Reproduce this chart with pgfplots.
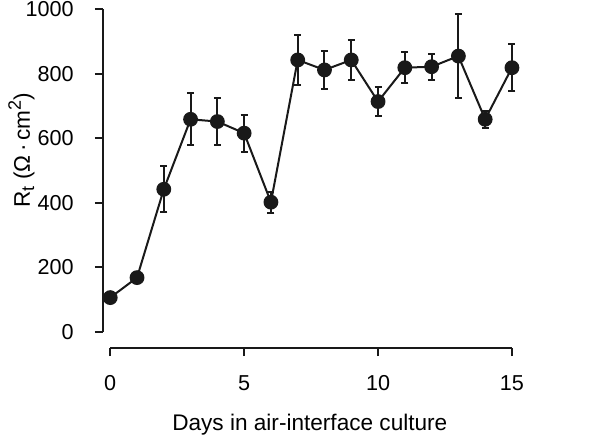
\documentclass[border=0pt]{standalone}
\usepackage{fontspec}
\setmainfont{Liberation Sans}
\usepackage{pgfplots}
\pgfplotsset{compat=1.18}
\newcommand{\mysub}[1]{\raisebox{-0.35ex}{\fontsize{9}{10}\selectfont #1}}
\newcommand{\mysup}[1]{\raisebox{0.75ex}{\fontsize{9}{10}\selectfont #1}}
\begin{document}
\begin{tikzpicture}
\begin{axis}[
 scale only axis, width=208.5pt, height=171pt,
 xmin=-0.27, xmax=15.3, ymin=-50.6, ymax=1010,
 axis x line=bottom, axis y line=left,
 axis line style={draw=none},
 clip=false,
 xtick={0,5,10,15}, ytick={0,200,...,1000},
 tick align=outside, major tick length=4pt,
 tick style={line width=1pt, black!90},
 /pgf/number format/1000 sep={},
 /pgf/number format/assume math mode=true,
 tick label style={font=\fontsize{10.8}{13}\selectfont},
 xticklabel style={anchor=base, inner sep=0pt, yshift=-17pt},
 yticklabel style={anchor=east, inner sep=0pt, xshift=-10.5pt},
 xlabel={Days in air-interface culture},
 ylabel={R\mysub{t} (Ω\,·\,cm\mysup{2})},
 every axis x label/.style={at={(rel axis cs:0.496,-0.24)}, anchor=base, font=\fontsize{11.3}{13}\selectfont},
 every axis y label/.style={at={(rel axis cs:-0.228,0.579)}, anchor=north, inner sep=0pt, rotate=90, font=\fontsize{11.3}{13}\selectfont},
]
\draw[line width=1pt, black!90] (axis cs:0,-50.6) -- (axis cs:15,-50.6);
\draw[line width=1pt, black!90] (axis cs:-0.27,0) -- (axis cs:-0.27,1000);
\addplot[black!90, line width=1pt, mark=*, mark size=3.2pt,
  error bars/.cd, y dir=both, y explicit,
  error bar style={line width=1pt},
  error mark options={rotate=90, mark size=1.75pt, line width=1pt}]
 table[x=x, y=y, y error=e] {
x y e
0 106 0
1 168 0
2 442 72
3 659 80
4 652 73
5 616 57
6 402 33
7 843 77
8 812 60
9 843 63
10 714 45
11 819 48
12 822 40
13 855 131
14 659 27
15 819 72
};
\end{axis}
\path ([xshift=-51.5pt,yshift=-43.5pt]current axis.south west) rectangle ([xshift=40.5pt,yshift=3.05pt]current axis.north east);
\end{tikzpicture}
\end{document}
